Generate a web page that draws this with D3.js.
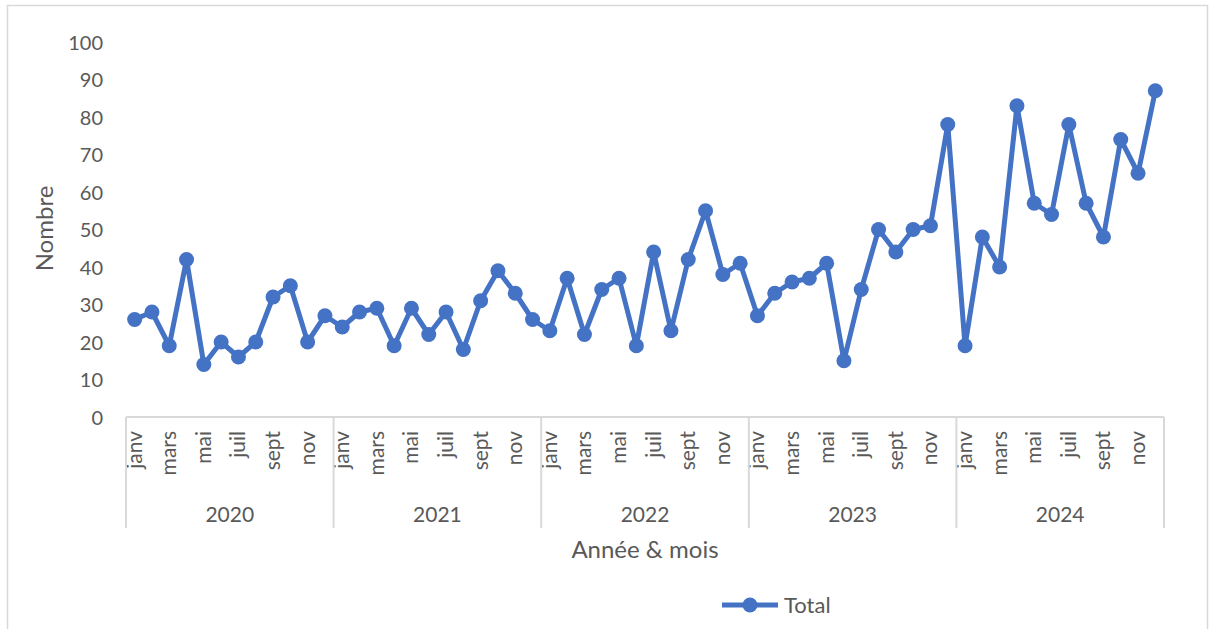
<!DOCTYPE html>
<html>
<head>
<meta charset="utf-8">
<title>Nombre par année et mois</title>
<style>
body { margin: 0; background: #fff; }
svg text { font-family: Lato, "Open Sans", sans-serif; fill: #595959; }
</style>
</head>
<body>
<svg width="1211" height="629"></svg>
<script src="https://cdn.jsdelivr.net/npm/d3@7"></script>
<script>
// data
var years = ["2020", "2021", "2022", "2023", "2024"];
var months = ["janv", "févr", "mars", "avr", "mai", "juin", "juil", "août", "sept", "oct", "nov", "déc"];
var v2020 = [26, 28, 19, 42, 14, 20, 16, 20, 32, 35, 20, 27];
var v2021 = [24, 28, 29, 19, 29, 22, 28, 18, 31, 39, 33, 26];
var v2022 = [23, 37, 22, 34, 37, 19, 44, 23, 42, 55, 38, 41];
var v2023 = [27, 33, 36, 37, 41, 15, 34, 50, 44, 50, 51, 78];
var v2024 = [19, 48, 40, 83, 57, 54, 78, 57, 48, 74, 65, 87];
var yTicks = [0, 10, 20, 30, 40, 50, 60, 70, 80, 90, 100];

var series = [v2020, v2021, v2022, v2023, v2024];
var data = [];
years.forEach(function(y, yi) {
    months.forEach(function(m, mi) {
        data.push({key: y + "-" + mi, year: y, month: m, mi: mi, value: series[yi][mi]});
    });
});

var blue = "#4472C4";
var svg = d3.select("svg");

// outer chart frame
svg.append("rect")
    .attr("x", 7.5).attr("y", 5.5)
    .attr("width", 1200).attr("height", 630)
    .attr("fill", "none").attr("stroke", "#d9d9d9").attr("stroke-width", 1.5);

var plotLeft = 126, plotRight = 1164, plotTop = 42, plotBottom = 417;

var x = d3.scaleBand()
    .domain(data.map(d => d.key))
    .range([plotLeft, plotRight]);

var y = d3.scaleLinear()
    .domain([0, 100])
    .range([plotBottom, plotTop]);

// y axis (labels only)
var yAxis = svg.append("g")
    .attr("transform", `translate(${plotLeft - 23},0)`)
    .call(d3.axisLeft(y).tickValues(yTicks).tickSize(0).tickPadding(0));
yAxis.select(".domain").remove();
yAxis.selectAll("text")
    .style("font-size", "20px")
    .attr("dy", "0.35em");

svg.append("text")
    .attr("transform", `translate(53,${(plotTop + plotBottom) / 2 - 1}) rotate(-90)`)
    .attr("text-anchor", "middle")
    .style("font-size", "24px")
    .text("Nombre");

// x axis: line, month labels, year groups
var axisG = svg.append("g");
axisG.append("line")
    .attr("x1", plotLeft).attr("x2", plotRight)
    .attr("y1", plotBottom).attr("y2", plotBottom)
    .attr("stroke", "#d9d9d9").attr("stroke-width", 2);

axisG.selectAll(".month")
    .data(data.filter(d => d.mi % 2 === 0))
    .enter()
    .append("text")
    .attr("class", "month")
    .attr("transform", d => `translate(${x(d.key) + x.bandwidth() / 2 + 7},${plotBottom + 14}) rotate(-90)`)
    .attr("text-anchor", "end")
    .style("font-size", "21px")
    .text(d => d.month);

var yearBounds = years.map(function(yr) {
    return {year: yr, x0: x(yr + "-0"), x1: x(yr + "-11") + x.bandwidth()};
});

axisG.selectAll(".sep")
    .data([plotLeft].concat(yearBounds.map(d => d.x1)))
    .enter()
    .append("line")
    .attr("x1", d => d).attr("x2", d => d)
    .attr("y1", plotBottom).attr("y2", 528)
    .attr("stroke", "#d9d9d9").attr("stroke-width", 2);

axisG.selectAll(".year")
    .data(yearBounds)
    .enter()
    .append("text")
    .attr("x", d => (d.x0 + d.x1) / 2)
    .attr("y", 522)
    .attr("text-anchor", "middle")
    .style("font-size", "21px")
    .text(d => d.year);

svg.append("text")
    .attr("x", (plotLeft + plotRight) / 2)
    .attr("y", 558)
    .attr("text-anchor", "middle")
    .style("font-size", "24px")
    .text("Année & mois");

// series
var line = d3.line()
    .x(d => x(d.key) + x.bandwidth() / 2)
    .y(d => y(d.value));

svg.append("path")
    .datum(data)
    .attr("d", line)
    .attr("fill", "none")
    .attr("stroke", blue)
    .attr("stroke-width", 5)
    .attr("stroke-linejoin", "round");

svg.selectAll(".pt")
    .data(data)
    .enter()
    .append("circle")
    .attr("class", "pt")
    .attr("cx", d => x(d.key) + x.bandwidth() / 2)
    .attr("cy", d => y(d.value))
    .attr("r", 7.5)
    .attr("fill", blue);

// legend
var lg = svg.append("g").attr("transform", "translate(722,605)");
lg.append("line")
    .attr("x1", 0).attr("x2", 56)
    .attr("stroke", blue).attr("stroke-width", 5);
lg.append("circle").attr("cx", 28).attr("r", 7.5).attr("fill", blue);
lg.append("text")
    .attr("x", 62).attr("y", 8)
    .style("font-size", "22px")
    .text("Total");
</script>
</body>
</html>
